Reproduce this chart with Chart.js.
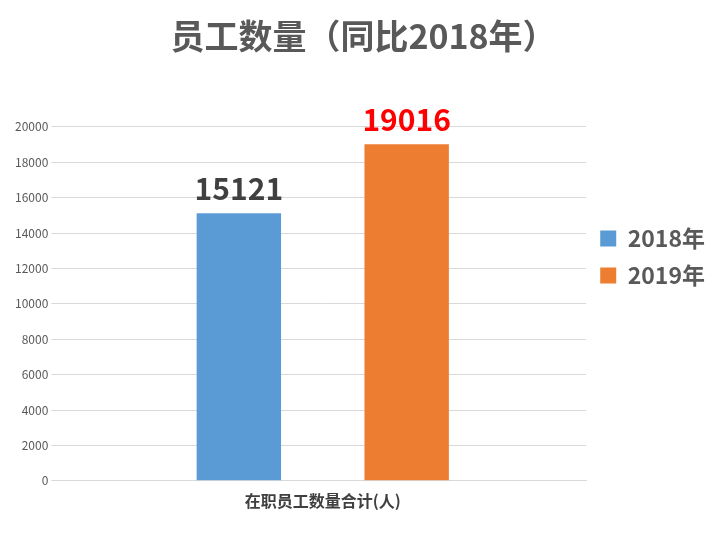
<!DOCTYPE html>
<html><head><meta charset="utf-8">
<script src="https://cdn.jsdelivr.net/npm/chart.js@4/dist/chart.umd.min.js"></script>
<style>html,body{margin:0;background:#fff}#wrap{width:717px;height:534px}</style>
</head><body><div id="wrap"><canvas id="c"></canvas></div>
<script>
const categories = ['在职员工数量合计(人)'];
const seriesNames = ['2018年', '2019年'];
const values2018 = [15121];
const values2019 = [19016];
const colors = ['#5b9bd5', '#ed7d31'];
const labelColors = ['#404040', '#ff0000'];
const FONT = '"Noto Sans CJK SC", "Noto Sans", sans-serif';

const valueLabels = {
  id: 'valueLabels',
  afterDatasetsDraw(chart) {
    const ctx = chart.ctx;
    ctx.save();
    ctx.font = 'bold 30px ' + FONT;
    ctx.textAlign = 'center';
    ctx.textBaseline = 'bottom';
    chart.data.datasets.forEach((ds, i) => {
      chart.getDatasetMeta(i).data.forEach((bar, j) => {
        ctx.fillStyle = labelColors[i];
        ctx.fillText(ds.data[j], bar.x, bar.y - 10);
      });
    });
    ctx.restore();
  }
};

new Chart(document.getElementById('c'), {
  type: 'bar',
  data: {
    labels: categories,
    datasets: [
      { label: seriesNames[0], data: values2018, backgroundColor: colors[0] },
      { label: seriesNames[1], data: values2019, backgroundColor: colors[1] },
    ]
  },
  options: {
    responsive: true,
    maintainAspectRatio: false,
    animation: false,
    categoryPercentage: 0.637,
    barPercentage: 0.503,
    layout: { padding: { left: 12, right: 2, top: 0, bottom: 20 } },
    plugins: {
      title: { display: true, text: '员工数量（同比2018年）', color: '#595959',
        font: { family: FONT, size: 34, weight: 'bold' }, padding: { top: 16, bottom: 70 } },
      legend: { position: 'right', labels: { color: '#595959', boxWidth: 16, boxHeight: 16,
        font: { family: FONT, size: 23, weight: 'bold' }, padding: 14 } },
      tooltip: { enabled: false }
    },
    scales: {
      x: { grid: { display: false }, border: { color: '#d9d9d9' },
        ticks: { color: '#404040', font: { family: FONT, size: 16, weight: 'bold' } } },
      y: { min: 0, max: 20000,
        ticks: { stepSize: 2000, color: '#595959', font: { family: FONT, size: 12 }, callback: v => String(v) },
        grid: { color: '#d9d9d9' }, border: { display: false } }
    }
  },
  plugins: [valueLabels]
});
</script></body></html>
